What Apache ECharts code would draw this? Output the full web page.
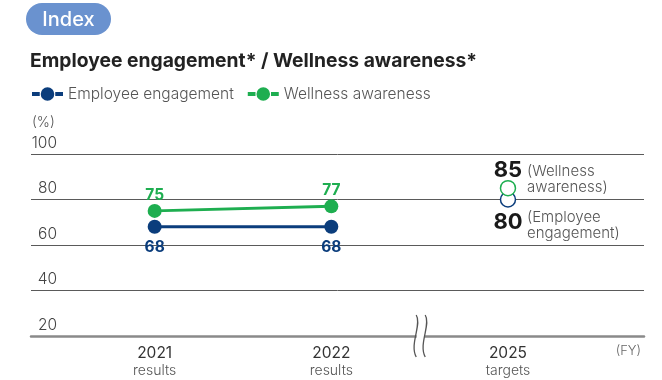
<!DOCTYPE html>
<html><head><meta charset="utf-8">
<script src="https://cdn.jsdelivr.net/npm/echarts@6/dist/echarts.min.js"></script>
<style>html,body{margin:0;padding:0;background:#fff}#c{width:662px;height:380px}</style>
</head><body><div id="c"></div>
<script>
// ---- data ----
const years = ['2021', '2022', '2025'];
const yearNotes = ['results', 'results', 'targets'];
const engagement = [68, 68];          // FY2021, FY2022 results
const wellness = [75, 77];            // FY2021, FY2022 results
const engagementTarget = 80;          // FY2025 target
const wellnessTarget = 85;            // FY2025 target
const yTicks = [20, 40, 60, 80, 100];

const BLUE = '#0b3d7c', GREEN = '#1eae50';
const FONT = 'Inter';
const legendIcon = 'path://M0,5h8v4h-8z M24,5h8v4h-8z M23,7a7,7 0 1,1 -14,0a7,7 0 1,1 14,0z';

const chart = echarts.init(document.getElementById('c'), null, {renderer: 'canvas'});
const pts = arr => arr.map((v, i) => [i, v]);

chart.setOption({
  animation: false,
  textStyle: {fontFamily: FONT},
  title: {
    text: 'Employee engagement* / Wellness awareness*',
    left: 25, top: 47,
    textStyle: {fontFamily: FONT, fontSize: 19.3, fontWeight: 'bold', color: '#222'}
  },
  legend: {
    left: 27, top: 81, itemWidth: 31, itemHeight: 14, itemGap: 14,
    data: [{name: 'Employee engagement', icon: legendIcon}, {name: 'Wellness awareness', icon: legendIcon}],
    textStyle: {fontFamily: FONT, fontSize: 15.5, color: '#555', fontWeight: 300}
  },
  grid: {left: 31, right: 18, top: 154, bottom: 44},
  xAxis: {
    type: 'value', min: -0.7, max: 2.77,
    splitLine: {show: false},
    axisLine: {show: true, lineStyle: {color: '#8a8a8a', width: 2.5}},
    axisTick: {show: false},
    axisLabel: {
      customValues: [0, 1, 2], margin: 8,
      formatter: v => '{y|' + years[v] + '}\n{n|' + yearNotes[v] + '}',
      rich: {
        y: {fontFamily: FONT, fontSize: 15.5, color: '#333', lineHeight: 18},
        n: {fontFamily: FONT, fontSize: 14, color: '#555', lineHeight: 17, fontWeight: 300}
      }
    }
  },
  yAxis: {
    type: 'value', min: 20, max: 100, interval: 20,
    axisLine: {show: false}, axisTick: {show: false},
    axisLabel: {
      customValues: yTicks,
      align: 'right', verticalAlign: 'bottom', margin: -26, padding: [0, 0, 3, 0],
      fontFamily: FONT, fontSize: 15.5, color: '#444', fontWeight: 300
    },
    splitLine: {lineStyle: {color: '#5a5a5a', width: 1}}
  },
  series: [
    {
      name: 'Employee engagement', type: 'line', data: pts(engagement),
      color: BLUE, symbol: 'circle', symbolSize: 14,
      lineStyle: {width: 3, color: BLUE},
      label: {show: true, position: 'bottom', distance: 6, formatter: p => p.value[1],
        fontFamily: FONT, fontSize: 15.5, fontWeight: 'bold', color: BLUE}
    },
    {
      name: 'Wellness awareness', type: 'line', data: pts(wellness),
      color: GREEN, symbol: 'circle', symbolSize: 14,
      lineStyle: {width: 3, color: GREEN},
      label: {show: true, position: 'top', distance: 1, formatter: p => p.value[1],
        fontFamily: FONT, fontSize: 15.5, fontWeight: 'bold', color: GREEN}
    },
    {
      name: 'Employee engagement target', type: 'scatter', z: 3,
      data: [[2, engagementTarget]], symbol: 'circle', symbolSize: 15,
      itemStyle: {color: '#fff', borderColor: BLUE, borderWidth: 1.5, opacity: 1},
      label: {show: true, position: 'bottom', distance: 4, formatter: p => p.value[1],
        fontFamily: FONT, fontSize: 22, fontWeight: 'bold', color: '#1a1a1a'}
    },
    {
      name: 'Wellness awareness target', type: 'scatter', z: 4,
      data: [[2, wellnessTarget]], symbol: 'circle', symbolSize: 15,
      itemStyle: {color: '#fff', borderColor: GREEN, borderWidth: 1.5, opacity: 1},
      label: {show: true, position: 'top', distance: -2, formatter: p => p.value[1],
        fontFamily: FONT, fontSize: 22, fontWeight: 'bold', color: '#1a1a1a'}
    },
    {
      name: 'notes', type: 'scatter', silent: true, symbolSize: 0, z: 5,
      itemStyle: {opacity: 1},
      data: [
        {value: [2, wellnessTarget], label: {formatter: '(Wellness\nawareness)', position: [19, -9]}},
        {value: [2, engagementTarget], label: {formatter: '(Employee\nengagement)', position: [19, 26]}}
      ],
      label: {show: true, align: 'left', verticalAlign: 'middle',
        fontFamily: FONT, fontSize: 15, color: '#555', lineHeight: 16, fontWeight: 300}
    }
  ]
});

// decorations placed from axis values
const brk = chart.convertToPixel({xAxisIndex: 0, yAxisIndex: 0}, [1.506, 20]);
const fy = chart.convertToPixel({xAxisIndex: 0, yAxisIndex: 0}, [2.77, 20]);
const top100 = chart.convertToPixel({xAxisIndex: 0, yAxisIndex: 0}, [-0.7, 100]);
const wave = dx => ({type: 'bezierCurve', z: 101, x: brk[0] + dx, y: brk[1],
  shape: {x1: 0, y1: -21, cpx1: 6, cpy1: -12, cpx2: -7, cpy2: 8, x2: 0, y2: 21},
  style: {fill: 'none', stroke: '#555', lineWidth: 1.3}});
chart.setOption({
  graphic: [
    {type: 'rect', shape: {x: 26, y: 3, width: 85, height: 32, r: 16}, style: {fill: '#6a92cf'}},
    {type: 'text', x: 68.5, y: 19.5, style: {text: 'Index', fill: '#fff', font: '500 20px Inter', align: 'center', verticalAlign: 'middle'}},
    {type: 'text', x: top100[0] + 1, y: top100[1] - 31, style: {text: '(%)', fill: '#555', font: '300 14px Inter', verticalAlign: 'middle'}},
    {type: 'text', x: fy[0] - 3, y: fy[1] + 15, style: {text: '(FY)', fill: '#666', font: '300 13px Inter', align: 'right', verticalAlign: 'middle'}},
    {type: 'rect', shape: {x: brk[0] - 4, y: brk[1] - 3, width: 8, height: 6}, style: {fill: '#fff'}, z: 100},
    wave(-4.5),
    wave(4.5)
  ]
});
</script></body></html>
